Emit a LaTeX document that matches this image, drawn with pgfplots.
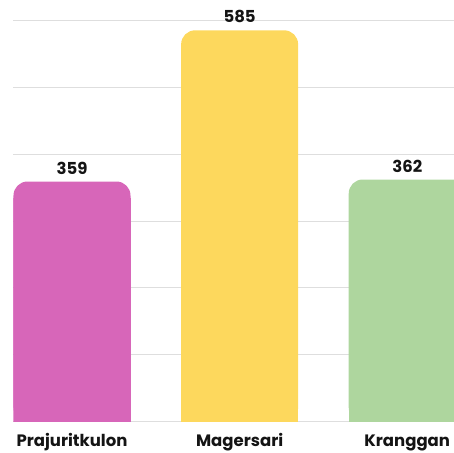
\documentclass[border=0pt]{standalone}
\usepackage{pgfplots}
\pgfplotsset{compat=1.18}
\usepackage{fontspec}
\setmainfont{Poppins}[BoldFont={* Bold}]
\definecolor{cA}{HTML}{D766B9}
\definecolor{cB}{HTML}{FDD85D}
\definecolor{cC}{HTML}{AED69E}
\definecolor{gridc}{HTML}{DEDEDE}
\begin{document}
\begin{tikzpicture}
\path[use as bounding box] (0,0) rectangle (454pt,452pt);
\begin{axis}[
  at={(13.5pt,30.3pt)}, anchor=south west,
  scale only axis, width=440.5pt, height=421.7pt,
  xmin=-0.349, xmax=2.279, ymin=0, ymax=630.3,
  axis line style={draw=none},
  ytick={0,100,...,600}, yticklabels={},
  ymajorgrids, grid style={draw=gridc, line width=0.9pt},
  major tick length=0pt,
  xtick={0,1,2}, xticklabels={Prajuritkulon,Magersari,Kranggan},
  xticklabel style={font=\fontsize{16.5}{18}\selectfont\bfseries, text=black!92, anchor=base, yshift=-24.3pt},
  /pgf/number format/assume math mode=true,
  nodes near coords style={font=\fontsize{16.5}{18}\selectfont\bfseries, text=black!92, anchor=base, yshift=7.4pt},
]
\addplot[ybar, bar width=117pt, bar shift=0pt, fill=cA, draw=none, rounded corners=14pt, nodes near coords] coordinates {(0,359)};
\addplot[ybar, bar width=117pt, bar shift=0pt, fill=cA, draw=none] coordinates {(0,335)};
\addplot[ybar, bar width=117pt, bar shift=0pt, fill=cB, draw=none, rounded corners=14pt, nodes near coords] coordinates {(1,585)};
\addplot[ybar, bar width=117pt, bar shift=0pt, fill=cB, draw=none] coordinates {(1,560)};
\addplot[ybar, bar width=117pt, bar shift=0pt, fill=cC, draw=none, rounded corners=14pt, nodes near coords] coordinates {(2,362)};
\addplot[ybar, bar width=117pt, bar shift=0pt, fill=cC, draw=none] coordinates {(2,338)};
\end{axis}
\end{tikzpicture}
\end{document}
